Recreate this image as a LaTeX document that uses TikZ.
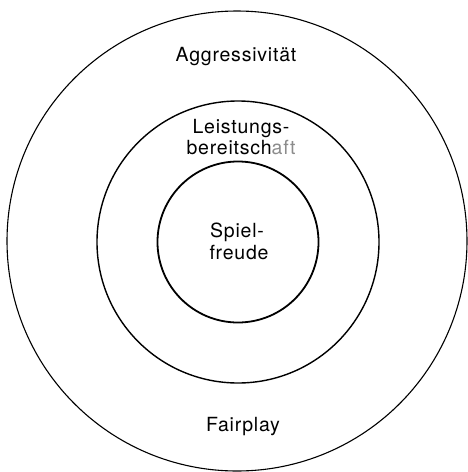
\documentclass[tikz,border=0pt]{standalone}
\usepackage{fontspec}
\setmainfont{TeX Gyre Heros}[LetterSpace=4]
\begin{document}
\begin{tikzpicture}[x=1pt,y=-1pt,
  ring/.style={draw=black,circle,inner sep=0pt},
  lbl/.style={font=\fontsize{19.5}{21}\selectfont,inner sep=0pt,align=center,anchor=base}]
\useasboundingbox (0,0) rectangle (467,472);
\node[ring,line width=1.1pt,minimum size=460pt] (outer) at (237,241) {};
\node[ring,line width=1.4pt,minimum size=282pt] (middle) at (238,242) {};
\node[ring,line width=1.8pt,minimum size=161pt] (inner) at (238,242) {};
\node[lbl] (aggr) at (236,61) {Aggressivität};
\node[lbl] (leist) at (241,133) {Leistungs-};
\node[lbl] (bereit) at (241,154) {bereitsch\textcolor{black!45}{aft}};
\node[lbl] (spiel) at (237,237) {Spiel-};
\node[lbl] (freude) at (239,259) {freude};
\node[lbl] (fair) at (243,431) {Fairplay};
\end{tikzpicture}
\end{document}
